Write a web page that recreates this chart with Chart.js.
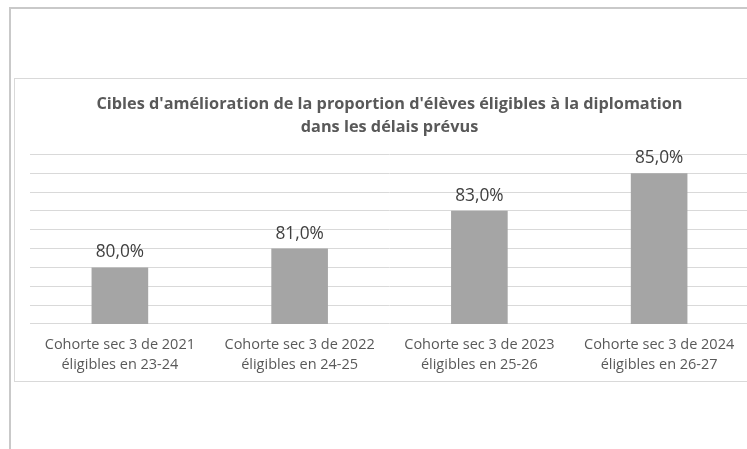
<!DOCTYPE html>
<html>
<head>
<meta charset="utf-8">
<script src="https://cdn.jsdelivr.net/npm/chart.js@4"></script>
<style>
  html, body { margin: 0; padding: 0; background: #fff; overflow: hidden; }
  #outer { position: absolute; left: 9px; top: 7px; width: 800px; height: 500px; border: 2px solid #c9c9c9; }
  #box { position: absolute; left: 14px; top: 78px; width: 746px; height: 302px; border: 1px solid #d9d9d9; }
</style>
</head>
<body>
<div id="outer"></div>
<div id="box"><canvas id="chart_cibles"></canvas></div>
<script>
var categories = [
  ['Cohorte sec 3 de 2021', 'éligibles en 23-24'],
  ['Cohorte sec 3 de 2022', 'éligibles en 24-25'],
  ['Cohorte sec 3 de 2023', 'éligibles en 25-26'],
  ['Cohorte sec 3 de 2024', 'éligibles en 26-27']
];
var cibles = [80.0, 81.0, 83.0, 85.0];
var titleLines = [
  "Cibles d'amélioration de la proportion d'élèves éligibles à la diplomation",
  'dans les délais prévus'
];

var fontFamily = '"Open Sans", sans-serif';

var chart_cibles = new Chart(document.getElementById('chart_cibles'), {
    type: 'bar',
    data: {
        labels: categories,
        datasets: [
            {
                  label: 'Cible',
                  backgroundColor: '#a5a5a5',
                  barPercentage: 0.63,
                  categoryPercentage: 0.5,
                  data: cibles
                }
        ]
    },
    options: {
        animation: false,
        responsive: true,
        maintainAspectRatio: false,
        layout: {
            padding: { left: 15, right: 12, top: 0, bottom: 3 }
        },
        plugins: {
            legend: { display: false },
            tooltip: { enabled: false },
            title: {
                display: true,
                text: titleLines,
                color: '#595959',
                font: { family: fontFamily, size: 16.3, weight: 'bold', lineHeight: 1.42 },
                padding: { top: 14, bottom: 15 }
            }
        },
        scales: {
            x: {
                grid: { display: false },
                border: { display: false },
                ticks: {
                    color: '#595959',
                    font: { family: fontFamily, size: 14.5, lineHeight: 1.38 },
                    padding: 3,
                    maxRotation: 0
                }
            },
            y: {
                min: 77,
                max: 86,
                grid: { color: '#d9d9d9', drawTicks: false },
                border: { display: false },
                ticks: { display: false, stepSize: 1 }
            }
        }
    },
plugins: [{
    id: 'valueLabels',
    afterDatasetsDraw: (chart) => {
          const ctx = chart.ctx;
          const meta = chart.getDatasetMeta(0);
          ctx.save();
          ctx.fillStyle = '#404040';
          ctx.font = '17.3px ' + fontFamily;
          ctx.textAlign = 'center';
          ctx.textBaseline = 'alphabetic';
          meta.data.forEach((bar, i) => {
              const v = chart.data.datasets[0].data[i];
              ctx.fillText(v.toFixed(1).replace('.', ',') + '%', bar.x, bar.y - 10);
          });
          ctx.restore();
    }
}]
});
</script>
</body>
</html>
